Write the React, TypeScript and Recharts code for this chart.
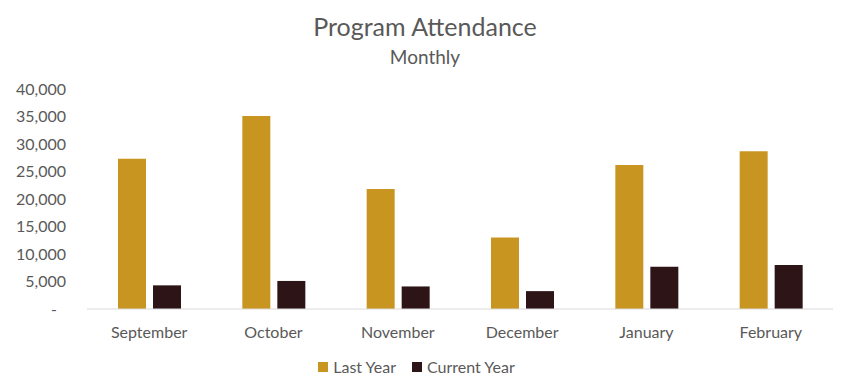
import { BarChart, Bar, XAxis, YAxis, Legend } from "recharts";

const months = ["September", "October", "November", "December", "January", "February"];
const lastYear = [27300, 35100, 21800, 13000, 26200, 28700];
const currentYear = [4300, 5100, 4100, 3250, 7700, 8000];
const yTicks = [0, 5000, 10000, 15000, 20000, 25000, 30000, 35000, 40000];
const seriesNames = ["Last Year", "Current Year"];

const data = months.map((m, i) => ({ month: m, last: lastYear[i], current: currentYear[i] }));

const FONT = "Lato, 'Noto Sans', sans-serif";
const TEXT = "#595959";
const GOLD = "#C99521";
const DARK = "#2D1416";

const YTick = (props: any) => {
  const { x, y, payload } = props;
  const v = payload.value;
  return (
    <text x={v === 0 ? x - 9 : x} y={y} dy="0.35em" textAnchor="end" fill={TEXT} fontSize={16} fontFamily={FONT}>
      {v === 0 ? "-" : v.toLocaleString("en-US")}
    </text>
  );
};

const LegendBox = () => (
  <div style={{ display: "flex", justifyContent: "center", gap: 16, fontFamily: FONT, fontSize: 16, color: TEXT }}>
    {seriesNames.map((n, i) => (
      <div key={n} style={{ display: "flex", alignItems: "center", gap: 5 }}>
        <span style={{ width: 10, height: 10, background: i === 0 ? GOLD : DARK, display: "inline-block" }} />
        <span>{n}</span>
      </div>
    ))}
  </div>
);

export default function App() {
  return (
    <div style={{ position: "fixed", left: 0, top: 0, width: 850, height: 390, background: "#fff", fontFamily: FONT }}>
      <div style={{ position: "absolute", top: 10, width: 850, textAlign: "center", color: TEXT, fontSize: 25, lineHeight: "32px" }}>
        Program Attendance
      </div>
      <div style={{ position: "absolute", top: 44, width: 850, textAlign: "center", color: TEXT, fontSize: 19, lineHeight: "26px" }}>
        Monthly
      </div>
      <BarChart width={850} height={390} data={data} margin={{ top: 89, right: 17, bottom: 24, left: 0 }}
        barSize={28} barGap={7}>
        <XAxis dataKey="month" axisLine={{ stroke: "#D9D9D9" }} tickLine={false} tickSize={0} tickMargin={18}
          height={38} tick={{ fill: TEXT, fontSize: 16, fontFamily: FONT }} />
        <YAxis domain={[0, 40000]} ticks={yTicks} axisLine={false} tickLine={false} tickSize={0} tickMargin={21}
          width={87} tick={<YTick />} />
        <Legend verticalAlign="bottom" content={<LegendBox />} wrapperStyle={{ bottom: 14 }} />
        <Bar dataKey="last" name="Last Year" fill={GOLD} isAnimationActive={false} />
        <Bar dataKey="current" name="Current Year" fill={DARK} isAnimationActive={false} />
      </BarChart>
    </div>
  );
}
